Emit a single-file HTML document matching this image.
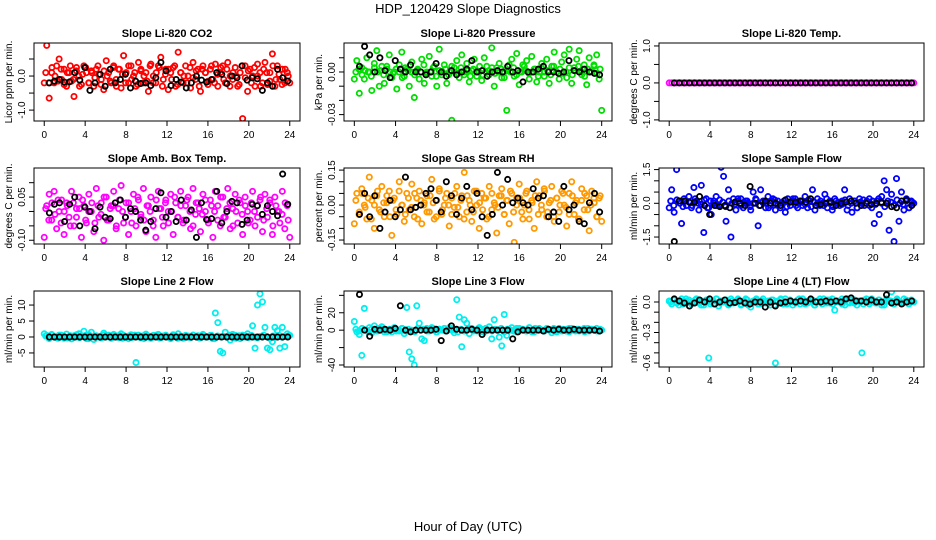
<!DOCTYPE html>
<html><head><meta charset="utf-8"><style>
body{margin:0;background:#fff;}
svg{display:block;font-family:"Liberation Sans",sans-serif;}
</style></head><body>
<svg id="chart" width="936" height="540" viewBox="0 0 936 540" xmlns="http://www.w3.org/2000/svg">
<rect width="936" height="540" fill="#fff"/>
<text x="468" y="13" font-size="13" text-anchor="middle">HDP_120429  Slope Diagnostics</text>
<text x="468" y="531" font-size="13" text-anchor="middle">Hour of Day (UTC)</text>
</svg>
<script>
const xTicks=[0,4,8,12,16,20,24];
const titles=["Slope Li-820 CO2","Slope Li-820 Pressure","Slope Li-820 Temp.","Slope Amb. Box Temp.","Slope Gas Stream RH","Slope Sample Flow","Slope Line 2 Flow","Slope Line 3 Flow","Slope Line 4 (LT) Flow"];
const yTitles=["Licor ppm per min.","kPa per min.","degrees C per min.","degrees C per min.","percent per min.","ml/min per min.","ml/min per min.","ml/min per min.","ml/min per min."];
const yTickVals=[[-1,-0.5,0,0.5],[-0.03,-0.02,-0.01,0,0.01],[-1,-0.5,0,0.5,1],[-0.10,-0.05,0,0.05,0.10],[-0.15,-0.10,-0.05,0,0.05,0.10,0.15],[-1.5,-1,-0.5,0,0.5,1,1.5],[-5,0,5,10],[-40,-20,0,20,40],[-0.6,-0.5,-0.4,-0.3,-0.2,-0.1,0]];
const yTickLabels=[["-1.0","","0.0",""],["-0.03","","","0.00",""],["-1.0","","0.0","","1.0"],["-0.10","","","0.05",""],["-0.15","","","0.00","","","0.15"],["-1.5","","","0.0","","","1.5"],["-5","0","5","10"],["-40","","0","20",""],["-0.6","","","-0.3","","","0.0"]];
const p1c=[-0.2,0.9,-0.65,0.1,-0.2,0.3,0.5,-0.1,0.2,-0.3,0.1,-0.15,-0.6,0.25,0.0,-0.25,0.3,0.1,-0.2,0.15,-0.3,0.2,0.05,-0.1,-0.4,0.45,0.1,-0.2,0.3,-0.1,0.2,-0.35,0.6,0.1,-0.2,0.3,0.0,-0.3,0.4,0.15,-0.2,0.1,-0.45,0.35,0.0,-0.2,0.3,0.55,-0.1,0.2,-0.4,0.1,0.25,-0.3,0.7,0.1,-0.2,0.3,0.0,-0.35,0.4,-0.1,0.2,-0.45,0.3,0.1,-0.25,0.2,-0.1,0.35,-0.3,0.1,0.3,-0.2,0.4,0.0,-0.1,0.25,-0.3,0.1,-1.25,0.3,-0.45,0.2,0.0,-0.3,0.35,0.1,-0.2,0.4,-0.25,0.1,0.65,-0.3,0.3,-0.1,0.2,-0.2,0.1,-0.2];
const p1b=[0.1,-0.2,0.25,0.0,-0.15,0.2,-0.25,0.1,0.3,-0.1,0.15,-0.3,0.05,0.25,-0.2,0.1,-0.05,0.3,-0.25,0.15,0.0,-0.15,0.25,-0.3,0.2,0.05,-0.2,0.3,-0.1,0.1,-0.25,0.2,0.0,-0.15,0.3,-0.2,0.1,0.25,-0.3,0.05,0.2,-0.1,0.3,-0.25,0.1,0.0,-0.2,0.25,-0.05,0.15,-0.3,0.2,0.1,-0.15,0.3,-0.2,0.05,0.25,-0.1,0.2,-0.3,0.1,0.0,-0.25,0.3,-0.05,0.15,-0.2,0.25,0.0,-0.3,0.2,0.1,-0.15,0.3,-0.1,0.05,-0.25,0.2,0.0];
const p1k=[-0.2,-0.15,-0.1,-0.18,-0.17,0.1,-0.12,0.25,-0.42,-0.2,0.05,-0.3,0.2,-0.2,-0.1,0.05,-0.35,-0.15,-0.22,-0.2,-0.28,-0.05,0.4,0.15,-0.28,-0.1,-0.18,-0.35,-0.2,0.0,-0.12,-0.18,-0.1,0.1,0.05,-0.22,0.0,-0.05,0.3,-0.12,-0.05,-0.08,-0.42,-0.2,-0.3,0.2,-0.05,-0.15];
const p2c=[-0.005,0.008,-0.015,0.003,-0.005,0.01,0.0,-0.013,0.006,0.015,-0.01,0.004,-0.008,0.002,0.012,-0.004,0.0,-0.012,0.005,0.014,-0.003,0.002,-0.01,0.007,-0.018,0.001,-0.005,0.009,-0.008,0.0,0.011,-0.003,0.004,-0.01,0.016,-0.002,0.005,-0.008,0.0,-0.034,0.003,0.008,-0.004,0.012,-0.002,0.006,-0.007,0.001,0.009,-0.003,0.0,-0.006,0.01,0.004,-0.002,0.017,-0.01,0.003,0.006,-0.004,0.0,-0.027,0.005,0.009,-0.003,0.013,-0.009,0.0,0.004,0.008,-0.005,0.011,0.002,-0.007,0.0,0.006,-0.003,0.009,-0.008,0.004,0.014,0.0,-0.005,0.007,0.012,-0.004,0.016,-0.008,0.003,0.009,0.015,-0.002,0.005,-0.009,0.01,0.0,0.004,0.012,-0.005,-0.027];
const p2b=[0.0,0.002,-0.002,0.001,0.0,-0.003,0.003,0.0,0.001,-0.002,0.004,0.0,-0.001,0.002,0.0,-0.004,0.003,0.001,0.0,-0.002,0.002,0.0,0.005,-0.001,0.0,0.003,-0.003,0.001,0.0,0.002,-0.002,0.004,0.0,-0.001,0.003,0.0,0.001,-0.003,0.002,0.0,0.004,-0.002,0.0,0.001,0.003,-0.001,0.0,0.002,-0.004,0.001,0.0,0.003,-0.002,0.0,0.005,0.001,-0.001,0.0,0.002,-0.003,0.003,0.0,0.001,-0.002,0.004,0.0,0.002,-0.001,0.0,0.003,-0.002,0.001,0.004,0.0,-0.003,0.002,0.0,0.005,-0.001,0.002];
const p2k=[0.004,0.018,0.012,0.0,0.01,0.001,-0.004,0.008,0.002,0.0,0.005,0.0,0.0,-0.002,0.0,0.006,0.0,-0.003,0.001,-0.002,0.0,0.002,0.008,0.0,0.001,-0.003,0.0,0.001,0.0,0.004,0.0,0.001,-0.007,0.0,0.0,0.002,0.004,0.0,0.0,-0.001,0.0,0.008,0.001,0.0,0.002,0.0,-0.001,-0.002];
const p3c=[0,0,0,0,0,0,0,0,0,0,0,0,0,0,0,0,0,0,0,0,0,0,0,0,0,0,0,0,0,0,0,0,0,0,0,0,0,0,0,0,0,0,0,0,0,0,0,0,0,0,0,0,0,0,0,0,0,0,0,0,0,0,0,0,0,0,0,0,0,0,0,0,0,0,0,0,0,0,0,0,0,0,0,0,0,0,0,0,0,0,0,0,0,0,0,0,0,0,0,0];
const p3b=[];
const p3k=[0,0,0,0,0,0,0,0,0,0,0,0,0,0,0,0,0,0,0,0,0,0,0,0,0,0,0,0,0,0,0,0,0,0,0,0,0,0,0,0,0,0,0,0,0,0,0,0];
const p4c=[-0.09,0.02,0.06,-0.03,0.07,-0.06,0.0,0.04,-0.08,0.03,-0.02,0.07,-0.05,0.01,0.05,-0.09,0.02,-0.04,0.06,0.0,-0.07,0.08,-0.02,0.03,-0.1,0.05,-0.03,0.02,0.07,-0.06,0.01,0.09,-0.04,0.03,-0.08,0.0,0.06,-0.05,0.04,-0.02,0.08,-0.07,0.02,0.05,-0.03,-0.09,0.07,0.01,-0.05,0.04,0.0,0.06,-0.08,0.03,-0.02,0.07,-0.04,0.02,0.05,-0.06,0.08,-0.01,0.03,-0.07,0.06,0.0,-0.03,0.04,-0.09,0.07,0.02,-0.05,0.05,-0.02,0.08,-0.06,0.01,0.06,-0.04,0.03,-0.08,0.05,0.0,-0.03,0.07,-0.05,0.02,0.04,-0.07,0.06,-0.02,0.03,-0.08,0.05,0.0,-0.04,0.07,-0.06,0.02,-0.09];
const p4b=[0.01,-0.03,0.03,-0.01,0.04,-0.04,0.0,0.02,-0.05,0.03,-0.02,0.01,0.04,-0.03,0.0,0.03,-0.04,0.02,-0.01,0.05,-0.03,0.01,0.02,-0.05,0.04,0.0,-0.02,0.03,-0.04,0.01,0.05,-0.01,-0.03,0.02,0.0,-0.05,0.04,0.01,-0.02,0.03,-0.04,0.0,0.05,-0.02,0.02,-0.03,0.04,0.0,-0.05,0.03,0.01,-0.01,0.04,-0.04,0.02,0.0,-0.03,0.05,-0.02,0.01,0.03,-0.05,0.0,0.04,-0.01,0.02,-0.04,0.03,0.0,-0.02,0.05,-0.03,0.01,0.04,-0.05,0.02,0.0,-0.01,0.03,-0.03];
const p4k=[-0.005,0.025,0.03,-0.035,0.025,0.05,-0.05,0.015,0.0,-0.06,0.015,-0.02,-0.025,0.03,0.04,-0.02,0.01,0.0,-0.03,-0.065,-0.035,0.01,0.065,-0.02,0.0,-0.035,0.04,-0.03,0.005,-0.09,0.03,-0.028,-0.025,0.07,-0.04,0.0,0.035,0.03,-0.045,-0.03,0.025,0.02,-0.01,0.02,0.0,-0.015,0.13,0.025];
const p5c=[-0.08,0.05,-0.03,0.07,0.0,-0.06,0.12,0.02,-0.1,0.04,-0.02,0.08,-0.05,0.01,0.06,-0.13,0.03,-0.04,0.1,0.0,-0.07,0.05,-0.02,0.09,-0.05,0.03,0.06,-0.08,0.01,0.04,-0.03,0.11,-0.06,0.02,0.07,-0.04,0.0,0.05,-0.09,0.03,-0.01,0.08,-0.05,0.04,0.14,-0.03,0.02,-0.07,0.06,0.0,-0.1,0.05,0.03,-0.06,0.08,-0.02,0.01,-0.12,0.04,0.07,-0.04,0.02,-0.08,0.05,-0.16,0.03,0.09,-0.03,0.0,0.06,-0.06,0.02,-0.1,0.1,0.04,-0.02,0.07,-0.05,0.01,0.08,-0.07,0.03,-0.03,0.06,0.0,-0.09,0.05,0.1,-0.04,0.02,-0.06,0.07,-0.02,0.04,-0.11,0.06,0.01,-0.05,0.03,-0.07];
const p5b=[0.02,-0.04,0.05,-0.01,0.03,-0.06,0.0,0.06,-0.03,0.01,0.04,-0.05,0.02,-0.02,0.06,0.0,-0.04,0.03,-0.01,0.05,-0.06,0.02,0.0,-0.03,0.04,0.01,-0.05,0.06,-0.02,0.03,0.0,-0.04,0.05,-0.01,0.02,-0.06,0.04,0.0,-0.03,0.06,0.01,-0.02,0.03,-0.05,0.05,0.0,-0.01,0.04,-0.04,0.02,0.06,-0.03,0.0,0.03,-0.06,0.05,-0.02,0.01,0.04,-0.04,0.0,0.06,-0.03,0.02,-0.05,0.03,0.0,0.05,-0.01,-0.04,0.04,0.01,-0.06,0.02,0.05,-0.02,0.0,0.03,-0.05,0.04];
const p5k=[-0.04,0.05,-0.05,0.04,-0.1,-0.03,0.02,-0.05,-0.02,0.12,-0.02,-0.01,0.0,0.05,0.07,0.02,-0.03,0.1,0.04,-0.04,0.03,0.08,-0.02,0.05,-0.05,-0.13,-0.04,0.14,0.0,0.11,0.01,0.03,0.01,0.0,0.07,0.03,0.04,-0.05,-0.03,-0.07,0.08,-0.02,0.0,-0.07,-0.08,0.01,0.05,-0.03];
const p6c=[-0.2,0.6,-0.4,1.5,0.1,-0.9,0.2,-0.1,0.3,-0.2,0.7,0.1,-0.3,0.8,-1.3,0.2,-0.2,-0.5,0.1,0.3,-0.1,1.6,1.2,-0.8,0.6,-1.5,0.2,-0.3,0.1,0.2,-0.2,0.1,0.0,-0.3,0.5,0.2,-1.0,0.6,0.1,-0.2,0.3,-0.1,0.2,-0.3,0.1,-0.2,0.0,-0.4,0.2,-0.1,0.1,0.2,-0.2,0.1,-0.1,0.3,-0.2,0.1,0.6,-0.3,0.2,-0.1,0.0,0.4,-0.2,0.1,-0.3,0.2,0.0,-0.1,0.1,0.6,-0.3,0.2,-0.4,0.1,-0.2,0.2,0.0,-0.1,0.1,0.2,-0.2,-0.9,0.1,-0.5,0.3,1.0,0.6,-1.2,0.4,-1.7,1.1,-0.8,0.5,-0.3,0.2,-0.2,0.1,0.0];
const p6b=[0.1,-0.1,0.15,0.0,-0.15,0.1,0.05,-0.1,0.2,0.0,-0.05,0.15,-0.2,0.1,0.0,-0.1,0.15,0.05,-0.15,0.1,0.0,-0.05,0.2,-0.1,0.05,0.1,-0.15,0.0,0.15,-0.1,0.05,0.0,-0.2,0.1,0.15,-0.05,0.0,0.1,-0.15,0.05,0.2,-0.1,0.0,0.1,-0.05,0.15,-0.15,0.05,0.0,0.1,-0.1,0.2,0.0,-0.15,0.1,0.05,-0.05,0.15,-0.1,0.0,0.1,-0.2,0.05,0.15,0.0,-0.1,0.1,-0.05,0.2,0.0,-0.15,0.1,0.05,-0.1,0.15,0.0,-0.05,0.1,-0.2,0.05];
const p6k=[-1.7,0.1,0.1,0.05,0.05,0.3,-0.1,-0.5,-0.1,-0.15,-0.1,-0.2,0.05,0.0,-0.1,0.75,0.0,-0.1,0.1,0.0,0.0,-0.1,0.15,0.05,0.05,0.1,0.05,0.2,-0.1,-0.05,0.0,0.05,-0.1,0.0,0.05,0.1,0.0,-0.1,0.0,-0.05,0.0,0.05,0.0,-0.15,-0.2,0.1,0.15,-0.1];
const p7c=[1,0.5,-0.5,0.8,0,-0.3,0.6,0.2,-0.4,0.9,0.1,-0.6,0.4,0,1,0.3,1.8,-0.5,0.7,1.5,-0.8,0.4,0.2,-0.3,1.2,0,0.6,-0.4,0.8,0.3,-0.2,1,0.5,0,-0.5,0.7,0.2,-8,0.6,-0.3,0.4,0.9,0,-0.4,0.5,0.2,0.8,-0.3,0.3,0.6,0,-0.5,0.7,0.2,1,0,-0.4,0.5,0.3,-0.2,0.6,0.1,0.4,-0.3,0.8,0.2,0,0.5,-0.5,7.5,4.5,-4.5,-5,1.5,0.3,-1,0.8,0.5,0.2,-0.5,0.6,0,1,0.3,3.5,-3.5,10,13.5,11,3,-3.5,-4,-1.5,3,2,-3.5,3,-3,1,0.5];
const p7b=[0.3,-0.2,0.5,0,-0.4,0.6,0.1,-0.3,0.4,0,0.7,-0.2,0.2,0.5,-0.5,0.1,0.3,0,-0.3,0.6,0.2,-0.1,0.4,0,0.5,-0.4,0.1,0.3,-0.2,0.6,0,0.2,-0.5,0.4,0.1,0,0.6,-0.3,0.2,0.4,-0.1,0,0.5,-0.4,0.3,0.1,0,-0.2,0.6,0.2,-0.3,0.4,0,0.1,0.5,-0.5,0.3,0,0.2,-0.1,0.6,0,-0.4,0.4,0.1,0.3,-0.2,0.5,0,-0.3,0.2,0.6,0.1,-0.4,0.3,0,0.5,-0.1,0.2,0.4];
const p7k=[0,0,0,0,0,0,0,0,0,0,0,0,0,0,0,0,0,0,0,0,0,0,0,0,0,0,0,0,0,0,0,0,0,0,0,0,0,0,0,0,0,0,0,0,0,0,0,0];
const p8c=[10,-2,-5,-29,25,0,3,-3,5,-1,2,4,-2,0,1,-2,3,0,-1,2,-4,26,-25,-33,-40,28,8,-10,-12,2,-1,3,0,-2,1,0,2,-1,3,0,-3,35,15,-19,12,8,-4,2,0,-1,3,1,-2,0,4,-10,12,0,-8,-18,18,-6,1,3,0,-2,2,1,0,-1,3,0,-2,1,2,0,-1,2,0,-3,1,0,2,-1,0,1,-2,2,0,1,-1,0,2,0,-1,1,0,2,-1,0];
const p8b=[1,-1,2,0,-2,1,0,-1,2,1,-2,0,1,-1,0,2,-1,1,0,-2,2,0,1,-1,0,2,-2,1,0,-1,1,2,0,-2,1,-1,0,2,-1,0,1,-2,2,0,-1,1,0,2,-2,1,0,-1,2,0,1,-1,0,-2,2,1,0,-1,1,0,2,-2,0,1,-1,2,0,-1,1,0,-2,2,1,0,-1,1];
const p8k=[41,0,-7,1,0,1,0,2,28,0,-2,0,0,0,0,1,-12,-1,5,1,0,0,1,0,-5,0,0,0,0,0,-10,-2,0,0,0,0,-1,1,0,1,0,0,1,0,0,0,0,-1];
const p9c=[0.01,-0.02,0.02,0.0,-0.03,0.03,0.01,-0.01,0.02,-0.02,0.0,0.03,-0.01,0.01,-0.03,0.02,-0.55,0.0,-0.02,0.03,-0.04,0.01,0.0,0.02,-0.03,0.03,-0.01,0.01,0.02,-0.02,0.0,0.03,-0.03,-0.05,0.01,0.02,-0.02,0.0,0.03,-0.01,0.01,-0.03,0.02,-0.6,0.0,0.02,-0.02,0.03,-0.01,0.01,-0.03,0.0,0.02,-0.02,0.03,0.01,-0.01,0.0,0.02,-0.03,0.01,0.03,-0.02,0.0,0.02,-0.01,0.03,-0.08,0.01,0.0,-0.02,0.02,0.03,-0.01,0.0,0.02,-0.03,0.01,-0.5,0.02,0.0,-0.02,0.03,0.01,-0.01,0.02,0.0,-0.03,0.03,0.01,0.1,-0.02,0.02,0.0,-0.01,0.03,0.01,-0.02,0.02,0.0];
const p9b=[0.0,0.02,-0.01,0.01,-0.02,0.03,0.0,-0.01,0.02,0.01,-0.03,0.0,0.02,-0.02,0.01,0.03,-0.01,0.0,0.02,-0.02,0.01,0.0,0.03,-0.03,0.01,0.02,-0.01,0.0,0.03,-0.02,0.01,0.0,-0.01,0.02,-0.03,0.01,0.03,0.0,-0.02,0.02,0.0,-0.01,0.03,0.01,-0.02,0.0,0.02,-0.03,0.01,0.0,0.03,-0.01,0.02,-0.02,0.0,0.01,0.03,-0.03,0.0,0.02,-0.01,0.01,0.0,-0.02,0.03,0.0,0.01,-0.01,0.02,-0.03,0.0,0.02,0.01,-0.02,0.03,0.0,-0.01,0.02,0.0,0.01];
const p9k=[0.03,0.01,-0.01,-0.04,-0.01,0.02,0.0,0.03,-0.02,0.0,0.02,-0.01,-0.005,0.01,-0.01,-0.02,0.0,0.0,-0.05,0.0,-0.04,-0.01,0.0,0.01,0.0,0.01,0.0,0.03,0.0,0.0,0.01,0.0,0.01,0.0,0.03,0.04,0.01,0.01,0.0,0.02,0.0,0.0,0.07,-0.01,0.0,-0.02,0.0,0.01];

const colouredSeries=[p1c,p2c,p3c,p4c,p5c,p6c,p7c,p8c,p9c];
const bandSeries=[p1b,p2b,p3b,p4b,p5b,p6b,p7b,p8b,p9b];
const blackSeries=[p1k,p2k,p3k,p4k,p5k,p6k,p7k,p8k,p9k];
const colours=["#ff0000","#00dd00","#ff00ff","#ff00ff","#ff9900","#0000ff","#00eeee","#00eeee","#00eeee"];
const yDomains=[[-1.32,0.97],[-0.0345,0.0204],[-1.03,1.08],[-0.113,0.151],[-0.167,0.159],[-1.81,1.57],[-9.4,14.4],[-42.3,45],[-0.639,0.108]];
const boxX=[[34,300],[344,612],[659,924]];
const boxY=[[43,121],[168,244],[291,367]];
const NS="http://www.w3.org/2000/svg";
const svg=document.getElementById('chart');
function mk(tag,attrs,parent){const e=document.createElementNS(NS,tag);for(const k in attrs)e.setAttribute(k,attrs[k]);(parent||svg).appendChild(e);return e;}

for(let p=0;p<9;p++){
  const col=p%3,row=Math.floor(p/3);
  const [bx0,bx1]=boxX[col],[by0,by1]=boxY[row];
  const [ymin,ymax]=yDomains[p];
  const px0=bx0+(bx1-bx0)*0.0385,px1=bx1-(bx1-bx0)*0.0385;
  const xs=v=>px0+(v/24)*(px1-px0);
  const ys=v=>by1-(v-ymin)/(ymax-ymin)*(by1-by0);
  const g=mk('g',{});
  
  
  const t=mk('text',{x:(bx0+bx1)/2,y:by0-6,'font-size':11,'font-weight':'bold','text-anchor':'middle'},g);
  t.textContent=titles[p];
  
  
  const clip=mk('clipPath',{id:'c'+p},g);
  mk('rect',{x:bx0,y:by0,width:bx1-bx0,height:by1-by0},clip);
  const pts=mk('g',{'clip-path':'url(#c'+p+')'},g);
  const bs=bandSeries[p];
  bs.forEach((v,i)=>{
    const c=mk('circle',{cx:xs(0.15+i*23.7/(bs.length-1)),cy:ys(v),r:2.6,fill:'none',stroke:colours[p],'stroke-width':1.8},pts);
    
    
  });
  const cs=colouredSeries[p];
  cs.forEach((v,i)=>{
    const c=mk('circle',{cx:xs(i*24/(cs.length-1)),cy:ys(v),r:2.6,fill:'none',stroke:colours[p],'stroke-width':1.8},pts);
    
    
  });
  const ks=blackSeries[p];
  ks.forEach((v,i)=>{
    const c=mk('circle',{cx:xs(0.5+i*23.3/(ks.length-1)),cy:ys(v),r:2.6,fill:'none',stroke:'#000','stroke-width':1.8},pts);
    
    
  });
  const box=mk('rect',{x:bx0,y:by0,width:bx1-bx0,height:by1-by0,fill:'none',stroke:'#000','stroke-width':1},g);
  
  
  mk('line',{x1:xs(0),x2:xs(24),y1:by1,y2:by1,stroke:'#000'},g);
  xTicks.forEach(v=>{
    mk('line',{x1:xs(v),x2:xs(v),y1:by1,y2:by1+5,stroke:'#000'},g);
    const l=mk('text',{x:xs(v),y:by1+17,'font-size':10,'text-anchor':'middle'},g);
    l.textContent=v;
    
    
  });
  const tv=yTickVals[p].filter(v=>v>=ymin&&v<=ymax);
  mk('line',{x1:bx0,x2:bx0,y1:ys(Math.min(...tv)),y2:ys(Math.max(...tv)),stroke:'#000'},g);
  yTickVals[p].forEach((v,i)=>{
    if(v<ymin||v>ymax)return;
    mk('line',{x1:bx0-5,x2:bx0,y1:ys(v),y2:ys(v),stroke:'#000'},g);
    const s=yTickLabels[p][i];
    if(s){
      const l=mk('text',{x:0,y:0,'font-size':10,'text-anchor':'middle',transform:'translate('+(bx0-9)+','+ys(v)+') rotate(-90)'},g);
      l.textContent=s;
      
      
    }
  });
  const yt=mk('text',{x:0,y:0,'font-size':10,'text-anchor':'middle',transform:'translate('+(bx0-22)+','+((by0+by1)/2)+') rotate(-90)'},g);
  yt.textContent=yTitles[p];
  
  
}
</script>
</body></html>
